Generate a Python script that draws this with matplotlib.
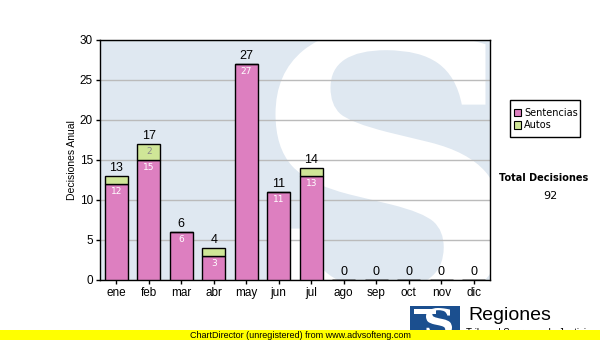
import matplotlib
matplotlib.use("Agg")
import matplotlib.pyplot as plt
from matplotlib.patches import Rectangle, PathPatch
from matplotlib.textpath import TextPath
from matplotlib.font_manager import FontProperties
from matplotlib.transforms import Affine2D
import numpy as np

months = ["ene", "feb", "mar", "abr", "may", "jun", "jul", "ago", "sep", "oct", "nov", "dic"]
sentencias = [12, 15, 6, 3, 27, 11, 13, 0, 0, 0, 0, 0]
autos = [1, 2, 0, 1, 0, 0, 1, 0, 0, 0, 0, 0]
yticks = [0, 5, 10, 15, 20, 25, 30]

plt.rcParams['font.family'] = ['Liberation Sans', 'DejaVu Sans']

W, H = 600, 340
fig = plt.figure(figsize=(6, 3.4), dpi=100)
fig.patch.set_facecolor("white")

ax = fig.add_axes([100 / W, 1 - 280 / H, 390 / W, 240 / H])
ax.set_facecolor("#dfe8f1")


def glyph_patch(ch, x0, x1, y0, y1, color, transform, weight="bold", family="DejaVu Serif", **kw):
    tp = TextPath((0, 0), ch, size=1, prop=FontProperties(family=family, weight=weight))
    ext = tp.get_extents()
    tr = (Affine2D().translate(-ext.x0, -ext.y0)
          .scale((x1 - x0) / ext.width, (y1 - y0) / ext.height)
          .translate(x0, y0))
    p = PathPatch(tr.transform_path(tp), facecolor=color, edgecolor="none",
                  transform=transform, **kw)
    return p


# watermark S (drawn as a shape, clipped to the plot area)
ax.add_patch(glyph_patch("S", 4.9, 11.9, -4, 31.5, "white", ax.transData, zorder=0.5, clip_on=True))

x = np.arange(len(months))
pink = "#dd7fc0"
green = "#cfe697"
bw = 0.72
ax.bar(x, sentencias, bw, color=pink, edgecolor="black", linewidth=1, zorder=3)
ax.bar(x, autos, bw, bottom=sentencias, color=green, edgecolor="black", linewidth=1, zorder=3)

for i, (s, a) in enumerate(zip(sentencias, autos)):
    tot = s + a
    ax.text(i, tot + 0.25, str(tot), ha="center", va="bottom", fontsize=9, color="black", zorder=5)
    if s > 1.5:
        ax.text(i, s - 0.4, str(s), ha="center", va="top", fontsize=6.5, color="white",
                family="DejaVu Sans", zorder=5)
    if a > 1.5:
        ax.text(i, s + a - 0.4, str(a), ha="center", va="top", fontsize=6.5, color="#888888",
                family="DejaVu Sans", zorder=5)

ax.set_xlim(-0.5, 11.5)
ax.set_ylim(0, 30)
ax.set_yticks(yticks)
ax.set_xticks(x)
ax.set_xticklabels(months)
ax.tick_params(axis="both", labelsize=8.5, length=3, width=1, direction="out", pad=2)
ax.yaxis.grid(True, color="#bbbbbb", linewidth=1, zorder=1)
ax.set_axisbelow(True)
for sp in ax.spines.values():
    sp.set_linewidth(1)
ax.set_ylabel("Decisiones Anual", fontsize=7.5, labelpad=2)

# legend box
fig.add_artist(Rectangle((510 / W, 1 - 137 / H), 70 / W, 37 / H, transform=fig.transFigure,
                         facecolor="white", edgecolor="black", linewidth=1))
for k, (lab, c) in enumerate([("Sentencias", pink), ("Autos", green)]):
    yy = 1 - (113 + k * 12) / H
    fig.add_artist(Rectangle((514 / W, yy - 3.5 / H), 7 / W, 7 / H, transform=fig.transFigure,
                             facecolor=c, edgecolor="black", linewidth=0.8))
    fig.text(524 / W, yy, lab, fontsize=7, va="center", ha="left", family="DejaVu Sans")

fig.text(544 / W, 1 - 178 / H, "Total Decisiones", fontsize=7, fontweight="bold",
         ha="center", va="center", family="DejaVu Sans")
fig.text(550 / W, 1 - 196 / H, "92", fontsize=8, ha="center", va="center", family="DejaVu Sans")

# logo
fig.add_artist(Rectangle((410 / W, 1 - 336 / H), 50 / W, 30 / H, transform=fig.transFigure,
                         facecolor="#1b4f8f", edgecolor="none"))
fig.add_artist(glyph_patch("S", 426 / W, 452 / W, 1 - 336 / H, 1 - 308 / H, "white",
                           fig.transFigure))
fig.add_artist(Rectangle((414 / W, 1 - 314 / H), 22 / W, 5 / H, transform=fig.transFigure,
                         facecolor="white", edgecolor="none"))
fig.text(468 / W, 1 - 316 / H, "Regiones", fontsize=14, ha="left", va="center")
fig.text(466 / W, 1 - 333 / H, "Tribunal Supremo de Justicia", fontsize=7, ha="left", va="center")

# yellow strip
fig.add_artist(Rectangle((0, 0), 1, 10 / H, transform=fig.transFigure,
                         facecolor="#ffff00", edgecolor="none", zorder=10))
fig.text(190 / W, 5 / H, "ChartDirector (unregistered) from www.advsofteng.com", fontsize=6.5,
         ha="left", va="center", zorder=11)

fig.savefig("out.png", dpi=100)
